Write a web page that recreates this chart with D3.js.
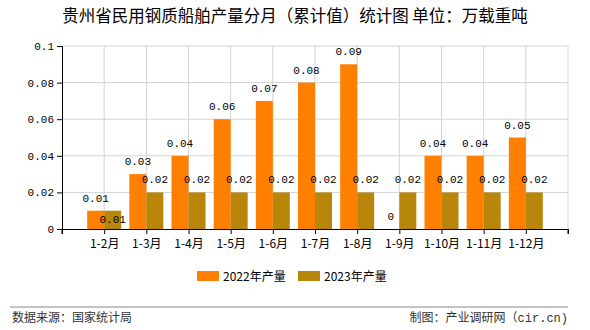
<!DOCTYPE html>
<html><head><meta charset="utf-8">
<script src="https://cdn.jsdelivr.net/npm/d3@7"></script>
<style>body{margin:0;background:#fff;}svg{display:block;}</style>
</head><body>
<script>
const categories = ["1-2月","1-3月","1-4月","1-5月","1-6月","1-7月","1-8月","1-9月","1-10月","1-11月","1-12月"];
const values2022 = [0.01,0.03,0.04,0.06,0.07,0.08,0.09,0,0.04,0.04,0.05];
const values2023 = [0.01,0.02,0.02,0.02,0.02,0.02,0.02,0.02,0.02,0.02,0.02];
const yTicks = [0,0.02,0.04,0.06,0.08,0.1];
const seriesNames = ["2022年产量","2023年产量"];
const colors = ["#FF8000","#B8860B"];

const W=590,H=330;
const svg=d3.select("body").append("svg").attr("width",W).attr("height",H);
const cjk="'Noto Sans CJK SC', sans-serif";
const mono="'Liberation Mono','DejaVu Sans Mono', monospace";

const x=d3.scalePoint().domain(categories).range([62,568]).padding(1);
const y=d3.scaleLinear().domain([0,0.1]).range([229,46]);
const bw=17;

svg.append("text").attr("x",295).attr("y",22).attr("text-anchor","middle")
  .style("font-family",cjk).style("font-size","16.5px").attr("fill","#000")
  .text("贵州省民用钢质船舶产量分月（累计值）统计图 单位：万载重吨");

// grid
const g=svg.append("g");
yTicks.forEach(t=>{ if(t>0) g.append("line").attr("x1",62).attr("x2",568).attr("y1",y(t)).attr("y2",y(t)).attr("stroke","#d3d3d3"); });
categories.forEach(c=>{ g.append("line").attr("x1",x(c)).attr("x2",x(c)).attr("y1",46).attr("y2",229).attr("stroke","#d3d3d3"); });
g.append("line").attr("x1",568).attr("x2",568).attr("y1",46).attr("y2",229).attr("stroke","#d3d3d3");

// bars
const series=[values2022,values2023];
series.forEach((vals,si)=>{
  svg.append("g").selectAll("rect").data(vals).join("rect")
    .attr("x",(d,i)=>x(categories[i])+(si===0?-bw:0))
    .attr("y",d=>y(d)).attr("width",bw).attr("height",d=>229-y(d))
    .attr("fill",colors[si]);
});

// axes
const yAxis=d3.axisLeft(y).tickValues(yTicks).tickSize(5).tickFormat(d=>d===0?"0":String(+d.toFixed(2)));
const ya=svg.append("g").attr("transform","translate(62,0)").call(yAxis);
ya.select(".domain").attr("stroke","#000");
ya.selectAll("text").style("font-family",mono).style("font-size","11px").attr("fill","#000");
const xa=svg.append("g").attr("transform","translate(0,229)").call(d3.axisBottom(x).tickSize(5).tickSizeOuter(5));
xa.select(".domain").attr("stroke","#000");
xa.selectAll("text").style("font-family",cjk).style("font-size","12px").attr("fill","#000").attr("dy","0.9em");
[62,568].forEach(px=>xa.append("line").attr("x1",px).attr("x2",px).attr("y1",0).attr("y2",5).attr("stroke","#000"));

// value labels
const lab=svg.append("g").style("font-family",mono).style("font-size","11px").attr("fill","#000").attr("text-anchor","middle");
categories.forEach((c,i)=>{
  const v1=values2022[i],v2=values2023[i];
  lab.append("text").attr("x",x(c)-bw/2).attr("y",y(v1)-9).text(String(v1));
  const clash=Math.abs(y(v1)-y(v2))<12;
  lab.append("text").attr("x",x(c)+bw/2).attr("y",clash?y(v2)+12:y(v2)-9).text(String(v2));
});

// legend
const lg=svg.append("g");
[197,298].forEach((lx,i)=>{
  lg.append("rect").attr("x",lx).attr("y",271).attr("width",22).attr("height",10).attr("fill",colors[i]);
  lg.append("text").attr("x",lx+26).attr("y",281).style("font-family",cjk).style("font-size","12px").attr("fill","#000").text(seriesNames[i]);
});

svg.append("line").attr("x1",10).attr("x2",568).attr("y1",307).attr("y2",307).attr("stroke","#888");
svg.append("text").attr("x",12).attr("y",322).style("font-family",cjk).style("font-size","12px").attr("fill","#333").text("数据来源：国家统计局");
const ft=svg.append("text").attr("x",568).attr("y",322).attr("text-anchor","end").style("font-family",cjk).style("font-size","12px").attr("fill","#333");
ft.append("tspan").text("制图：产业调研网（");
ft.append("tspan").style("font-family",mono).text("cir.cn)");
</script>
</body></html>
